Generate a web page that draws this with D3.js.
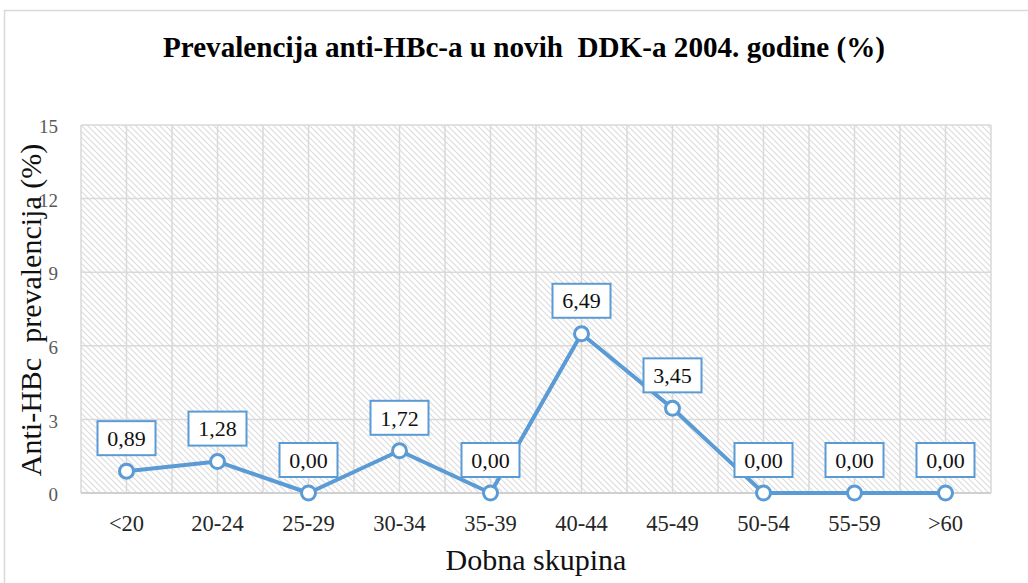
<!DOCTYPE html>
<html lang="hr">
<head>
  <meta charset="UTF-8">
  <title>Prevalencija anti-HBc-a</title>
  <script src="https://cdn.jsdelivr.net/npm/d3@7/dist/d3.min.js"></script>
  <style>
    body { margin: 0; background: #fff; }
  </style>
</head>
<body>
  <div id="chart"></div>

  <script>
    // Data
    var groups = ["<20", "20-24", "25-29", "30-34", "35-39", "40-44", "45-49", "50-54", "55-59", ">60"];
    var prevalence = [0.89, 1.28, 0.00, 1.72, 0.00, 6.49, 3.45, 0.00, 0.00, 0.00];
    var yTicks = [0, 3, 6, 9, 12, 15];

    var W = 1028, H = 583;
    var margin = { top: 125, right: 37, bottom: 90, left: 81 },
      width = W - margin.left - margin.right,
      height = H - margin.top - margin.bottom;

    var blue = "#5b9bd5", grid = "#d9d9d9";
    var serif = "'Liberation Serif'";

    var svg = d3.select("#chart")
      .append("svg")
      .attr("width", W)
      .attr("height", H);

    // hatch pattern for the plot area
    var defs = svg.append("defs");
    var pat = defs.append("pattern")
      .attr("id", "hatch")
      .attr("patternUnits", "userSpaceOnUse")
      .attr("width", 6)
      .attr("height", 6);
    pat.append("rect").attr("width", 6).attr("height", 6).attr("fill", "#fff");
    pat.append("path")
      .attr("d", "M-1,-1 L7,7 M-4,2 L4,10 M2,-4 L10,4")
      .attr("stroke", "#dcdcdc")
      .attr("stroke-width", 1.1);

    // outer chart frame
    svg.append("rect")
      .attr("x", 4.5).attr("y", 10.5)
      .attr("width", W + 20).attr("height", H + 20)
      .attr("fill", "none")
      .attr("stroke", grid)
      .attr("stroke-width", 1.5);

    // title
    svg.append("text")
      .attr("x", 524)
      .attr("y", 57)
      .attr("text-anchor", "middle")
      .attr("textLength", 722)
      .attr("lengthAdjust", "spacingAndGlyphs")
      .style("font-family", serif)
      .style("font-weight", "bold")
      .style("font-size", "28.5px")
      .style("white-space", "pre")
      .attr("fill", "#000")
      .text("Prevalencija anti-HBc-a u novih  DDK-a 2004. godine (%)");

    var g = svg.append("g")
      .attr("transform", "translate(" + margin.left + "," + margin.top + ")");

    var x = d3.scaleBand()
      .domain(groups)
      .range([0, width])
      .padding(0);

    var y = d3.scaleLinear()
      .domain([0, 15])
      .range([height, 0]);

    g.append("rect")
      .attr("width", width)
      .attr("height", height)
      .attr("fill", "url(#hatch)");

    // vertical gridlines at category centres and boundaries
    var vLines = [];
    groups.forEach(function (d) {
      vLines.push(x(d));
      vLines.push(x(d) + x.bandwidth() / 2);
    });
    vLines.push(width);
    g.append("g")
      .selectAll("line")
      .data(vLines)
      .enter()
      .append("line")
      .attr("x1", function (d) { return d; })
      .attr("x2", function (d) { return d; })
      .attr("y1", 0)
      .attr("y2", height)
      .attr("stroke", grid)
      .attr("stroke-width", 1.5);

    // horizontal gridlines
    g.append("g")
      .selectAll("line")
      .data(yTicks)
      .enter()
      .append("line")
      .attr("x1", 0)
      .attr("x2", width)
      .attr("y1", function (d) { return y(d); })
      .attr("y2", function (d) { return y(d); })
      .attr("stroke", grid)
      .attr("stroke-width", 1.5);

    g.append("line")
      .attr("x1", 0).attr("x2", width)
      .attr("y1", height).attr("y2", height)
      .attr("stroke", "#d0d0d0")
      .attr("stroke-width", 2);

    // y axis labels
    var yAxis = g.append("g")
      .call(d3.axisLeft(y).tickValues(yTicks).tickSize(0).tickPadding(23));
    yAxis.select(".domain").remove();
    yAxis.attr("font-family", null);
    yAxis.selectAll("text")
      .style("font-family", serif)
      .style("font-size", "19px")
      .attr("dy", "0.4em")
      .attr("fill", "#595959");

    // x axis labels
    var xAxis = g.append("g")
      .attr("transform", "translate(0," + height + ")")
      .call(d3.axisBottom(x).tickSize(0).tickPadding(22));
    xAxis.select(".domain").remove();
    xAxis.attr("font-family", null);
    xAxis.selectAll("text")
      .style("font-family", serif)
      .style("font-size", "22.5px")
      .attr("fill", "#262626");

    // axis titles
    svg.append("text")
      .attr("transform", "translate(41,310) rotate(-90)")
      .attr("text-anchor", "middle")
      .style("font-family", serif)
      .style("font-size", "30px")
      .style("white-space", "pre")
      .attr("fill", "#111")
      .text("Anti-HBc  prevalencija (%)");

    svg.append("text")
      .attr("x", margin.left + width / 2)
      .attr("y", 570)
      .attr("text-anchor", "middle")
      .style("font-family", serif)
      .style("font-size", "30px")
      .attr("fill", "#111")
      .text("Dobna skupina");

    var cx = function (d, i) { return x(groups[i]) + x.bandwidth() / 2; };

    // line
    var line = d3.line()
      .x(function (d, i) { return cx(d, i); })
      .y(function (d) { return y(d); });

    g.append("path")
      .datum(prevalence)
      .attr("fill", "none")
      .attr("stroke", blue)
      .attr("stroke-width", 4)
      .attr("stroke-linejoin", "round")
      .attr("d", line);

    // markers
    g.append("g")
      .selectAll("circle")
      .data(prevalence)
      .enter()
      .append("circle")
      .attr("cx", cx)
      .attr("cy", function (d) { return y(d); })
      .attr("r", 7)
      .attr("fill", "#fff")
      .attr("stroke", blue)
      .attr("stroke-width", 3);

    // data labels in boxes
    var fmt = function (v) { return v.toFixed(2).replace(".", ","); };
    var lbl = g.append("g")
      .selectAll("g")
      .data(prevalence)
      .enter()
      .append("g")
      .attr("transform", function (d, i) {
        return "translate(" + cx(d, i) + "," + (y(d) - 33) + ")";
      });
    lbl.append("rect")
      .attr("x", -29)
      .attr("y", -17)
      .attr("width", 58)
      .attr("height", 34)
      .attr("fill", "#fff")
      .attr("stroke", blue)
      .attr("stroke-width", 2);
    lbl.append("text")
      .attr("text-anchor", "middle")
      .attr("dy", "0.35em")
      .style("font-family", serif)
      .style("font-size", "22px")
      .attr("fill", "#111")
      .text(fmt);
  </script>
</body>
</html>
